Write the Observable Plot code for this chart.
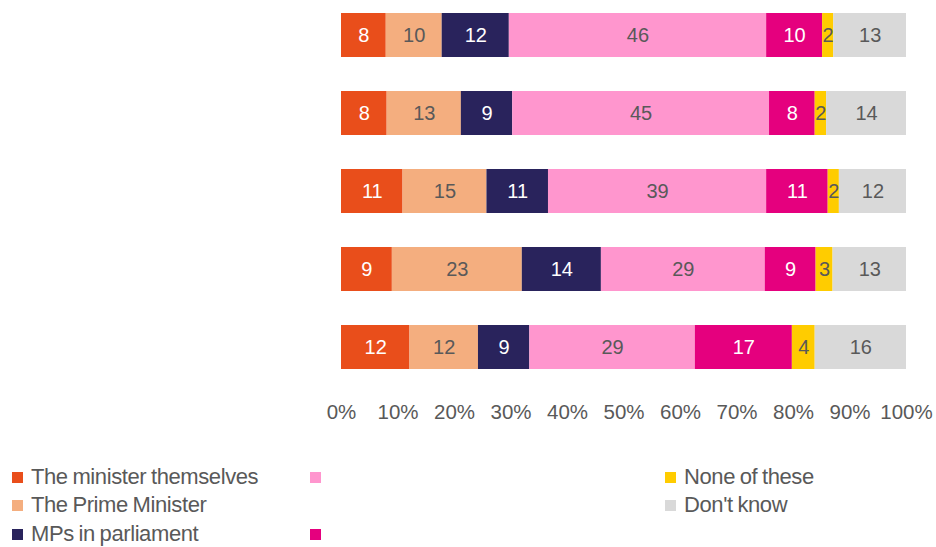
<!DOCTYPE html>
<html>
<head>
<meta charset="utf-8">
<script src="https://cdn.jsdelivr.net/npm/d3@7"></script>
<script src="https://cdn.jsdelivr.net/npm/@observablehq/plot@0.6"></script>
<style>
  html, body { margin: 0; padding: 0; background: #fff; }
  #wrap { position: relative; width: 936px; height: 547px; font-family: "Liberation Sans", Arial, sans-serif; }
  #wrap svg { display: block; }
  .lg { position: absolute; display: flex; align-items: center; font-size: 22px; color: #595959; letter-spacing: -0.4px; word-spacing: -1px; white-space: nowrap; }
  .lg span.sw { display: inline-block; width: 11px; height: 11px; margin-right: 8px; }
</style>
</head>
<body>
<div id="wrap"></div>
<script>
// Rows (categories have no visible labels in the reference)
const rows = ["r1", "r2", "r3", "r4", "r5"];
const seriesKeys = ["minister", "pm", "mps", "pink", "magenta", "none", "dk"];
const seriesLabels = ["The minister themselves", "The Prime Minister", "MPs in parliament", "", "", "None of these", "Don't know"];
const seriesColors = ["#E94E1B", "#F4AE7F", "#29235C", "#FF96CE", "#E5007E", "#FFCC00", "#D9D9D9"];
const whiteLabelSeries = ["minister", "mps", "magenta"];

const minister = [8, 8, 11, 9, 12];
const pm       = [10, 13, 15, 23, 12];
const mps      = [12, 9, 11, 14, 9];
const pink     = [46, 45, 39, 29, 29];
const magenta  = [10, 8, 11, 9, 17];
const none     = [2, 2, 2, 3, 4];
const dk       = [13, 14, 12, 13, 16];
const seriesValues = [minister, pm, mps, pink, magenta, none, dk];

const xTicks = [0, 0.1, 0.2, 0.3, 0.4, 0.5, 0.6, 0.7, 0.8, 0.9, 1];

const data = [];
seriesKeys.forEach((k, si) => {
  rows.forEach((r, ri) => {
    data.push({row: r, key: k, value: seriesValues[si][ri]});
  });
});

const isWhite = d => whiteLabelSeries.includes(d.key);
const base = {x: "value", y: "row", z: "key", offset: "normalize", fontSize: 20};

const chart = Plot.plot({
  width: 936,
  height: 440,
  marginLeft: 341,
  marginRight: 30,
  marginTop: 13,
  marginBottom: 71,
  style: {fontFamily: "Liberation Sans, Arial, sans-serif", fontSize: "20.5px", color: "#595959", background: "#fff"},
  x: {domain: [0, 1], ticks: xTicks, tickFormat: d => Math.round(d * 100) + "%", tickSize: 0, tickPadding: 35, label: null},
  y: {domain: rows, axis: null, paddingInner: 0.436, paddingOuter: 0},
  color: {domain: seriesKeys, range: seriesColors},
  marks: [
    Plot.barX(data, Plot.stackX({x: "value", y: "row", fill: "key", offset: "normalize"})),
    Plot.text(data, Plot.stackX({...base, text: d => isWhite(d) ? String(d.value) : "", fill: "white"})),
    Plot.text(data, Plot.stackX({...base, text: d => isWhite(d) ? "" : String(d.value), fill: "#595959"})),
  ]
});
document.getElementById("wrap").appendChild(chart);

// Legend
const slots = [[0,0],[0,1],[0,2],[1,0],[1,2],[2,0],[2,1]];
const colX = [12, 310, 665];
const rowY = [477, 505, 534];
const wrap = document.getElementById("wrap");
seriesKeys.forEach((k, i) => {
  const d = document.createElement("div");
  d.className = "lg";
  d.style.left = colX[slots[i][0]] + "px";
  d.style.top = (rowY[slots[i][1]] - 12) + "px";
  d.style.height = "24px";
  d.innerHTML = `<span class="sw" style="background:${seriesColors[i]}"></span><span>${seriesLabels[i]}</span>`;
  wrap.appendChild(d);
});
</script>
</body>
</html>
